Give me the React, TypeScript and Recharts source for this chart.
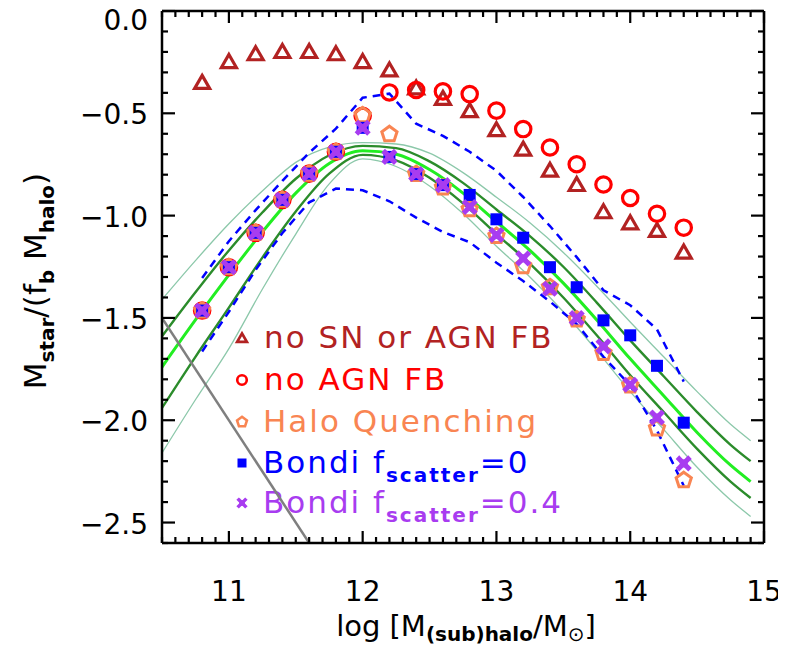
import { ComposedChart, Line, Scatter, XAxis, YAxis } from 'recharts';

const FONT = '"DejaVu Sans", Verdana, sans-serif';

// model points, log M_halo grid
const haloMass = [10.8, 11.0, 11.2, 11.4, 11.6, 11.8, 12.0, 12.2, 12.4, 12.6, 12.8, 13.0, 13.2, 13.4, 13.6, 13.8, 14.0, 14.2, 14.4];
const noSnAgn = [-0.349, -0.247, -0.209, -0.198, -0.198, -0.209, -0.247, -0.288, -0.376, -0.427, -0.487, -0.58, -0.675, -0.778, -0.848, -0.981, -1.035, -1.072, -1.178];
const noAgn = [-1.464, -1.252, -1.084, -0.923, -0.795, -0.688, -0.512, -0.398, -0.386, -0.393, -0.406, -0.487, -0.577, -0.667, -0.749, -0.848, -0.914, -0.991, -1.059];
const haloQuench = [-1.464, -1.252, -1.084, -0.923, -0.795, -0.688, -0.51, -0.602, -0.797, -0.863, -0.969, -1.1, -1.247, -1.35, -1.508, -1.672, -1.83, -2.04, -2.293];
const bondi0 = [-1.464, -1.252, -1.084, -0.923, -0.795, -0.688, -0.571, -0.713, -0.797, -0.851, -0.899, -1.018, -1.108, -1.252, -1.35, -1.512, -1.585, -1.734, -2.012];
const bondi04 = [-1.464, -1.252, -1.084, -0.923, -0.795, -0.688, -0.571, -0.713, -0.797, -0.851, -0.958, -1.095, -1.209, -1.357, -1.5, -1.639, -1.827, -1.987, -2.211];

// dashed spread of the bondi run
const spreadHi = [-1.305, -1.125, -0.973, -0.83, -0.693, -0.575, -0.424, -0.404, -0.551, -0.61, -0.688, -0.781, -0.909, -1.051, -1.203, -1.365, -1.438, -1.556, -1.811];
const spreadLo = [-1.664, -1.47, -1.265, -1.085, -0.935, -0.868, -0.876, -0.93, -1.01, -1.08, -1.13, -1.23, -1.32, -1.42, -1.53, -1.69, -1.83, -2.05, -2.32];

// abundance matching relation and its scatter
const fitMass = [10.5, 10.75, 11.0, 11.25, 11.5, 11.75, 12.0, 12.25, 12.5, 12.75, 13.0, 13.25, 13.5, 13.75, 14.0, 14.25, 14.5, 14.75, 14.9];
const fitMid = [-1.74, -1.51, -1.29, -1.08, -0.89, -0.745, -0.683, -0.7, -0.775, -0.89, -1.03, -1.17, -1.33, -1.51, -1.7, -1.88, -2.06, -2.22, -2.3];
const fitHi1 = [-1.59, -1.375, -1.17, -0.985, -0.82, -0.705, -0.659, -0.67, -0.735, -0.84, -0.97, -1.1, -1.25, -1.425, -1.61, -1.785, -1.96, -2.12, -2.2];
const fitLo1 = [-1.94, -1.69, -1.45, -1.205, -0.98, -0.795, -0.703, -0.73, -0.815, -0.94, -1.09, -1.235, -1.4, -1.585, -1.78, -1.96, -2.14, -2.3, -2.38];
const fitHi2 = [-1.41, -1.22, -1.04, -0.88, -0.74, -0.665, -0.643, -0.65, -0.695, -0.79, -0.91, -1.035, -1.18, -1.345, -1.52, -1.69, -1.86, -2.02, -2.1];
const fitLo2 = [-2.16, -1.9, -1.65, -1.36, -1.09, -0.845, -0.723, -0.76, -0.855, -0.99, -1.15, -1.3, -1.47, -1.66, -1.86, -2.045, -2.23, -2.39, -2.47];

// resolution limit
const limitMass = [10.5, 11.6];
const limitVal = [-1.5, -2.6];

const xTicks = Array.from({ length: 46 }, (_, i) => (105 + i) / 10);
const yTicks = Array.from({ length: 27 }, (_, i) => -i / 10);

const pts = (xs: number[], ys: number[]) => xs.map((x, i) => ({ x, y: ys[i] }));

const C = {
  tri: '#b22222',
  circ: '#ff0000',
  pent: '#f98552',
  sq: '#0000ff',
  xx: '#a83cf0',
  lime: '#22ee22',
  dark: '#2b8c2b',
  pale: '#8cc8aa',
};

const W = 778;
const H = 647;

const TICK = { stroke: '#000', strokeWidth: 2.2 };
const major = (v: number, step: number) => Math.abs(v / step - Math.round(v / step)) < 1e-6;

function BottomTick({ x, y, payload }: any) {
  const v = payload.value;
  const big = major(v, 1);
  return (
    <g>
      <line x1={x} x2={x} y1={y} y2={y - (big ? 12 : 6)} {...TICK} />
      {big && (
        <text x={x} y={y + 58} textAnchor="middle" fontFamily={FONT} fontSize={28} fill="#000">
          {Math.round(v)}
        </text>
      )}
    </g>
  );
}

function TopTick({ x, y, payload }: any) {
  const big = major(payload.value, 1);
  return <line x1={x} x2={x} y1={y} y2={y + (big ? 12 : 6)} {...TICK} />;
}

function LeftTick({ x, y, payload }: any) {
  const v = payload.value;
  const big = major(v, 0.5);
  const top = Math.abs(v) < 1e-9;
  const lab = top ? '0.0' : '\u2212' + Math.abs(v).toFixed(1);
  return (
    <g>
      <line x1={x} x2={x + (big ? 13 : 6)} y1={y} y2={y} {...TICK} />
      {big && (
        <text x={x - 14} y={y + (top ? 19 : 11)} textAnchor="end" fontFamily={FONT} fontSize={28} fill="#000">
          {lab}
        </text>
      )}
    </g>
  );
}

function RightTick({ x, y, payload }: any) {
  const big = major(payload.value, 0.5);
  return <line x1={x} x2={x - (big ? 13 : 6)} y1={y} y2={y} {...TICK} />;
}

function pentagon(cx: number, cy: number, r: number) {
  return Array.from({ length: 5 }, (_, k) => {
    const a = ((-90 + k * 72) * Math.PI) / 180;
    return `${cx + r * Math.cos(a)},${cy + r * Math.sin(a)}`;
  }).join(' ');
}

const Tri = ({ cx, cy, s = 1 }: any) => (
  <path
    d={`M${cx},${cy - 7 * s} L${cx + 7.5 * s},${cy + 6 * s} L${cx - 7.5 * s},${cy + 6 * s} Z`}
    fill="none"
    stroke={C.tri}
    strokeWidth={3.2 * Math.min(1, s + 0.2)}
  />
);
const Circ = ({ cx, cy, s = 1 }: any) => (
  <circle cx={cx} cy={cy} r={7.7 * s} fill="none" stroke={C.circ} strokeWidth={3.2 * Math.min(1, s + 0.2)} />
);
const Pent = ({ cx, cy, s = 1 }: any) => (
  <polygon points={pentagon(cx, cy, 8 * s)} fill="none" stroke={C.pent} strokeWidth={3 * Math.min(1, s + 0.2)} />
);
const Sq = ({ cx, cy, s = 1 }: any) => (
  <rect x={cx - 6 * s} y={cy - 6 * s} width={12 * s} height={12 * s} fill={C.sq} />
);
const Cross = ({ cx, cy, s = 1 }: any) => (
  <g stroke={C.xx} strokeWidth={5 * s} strokeLinecap="square">
    <line x1={cx - 4.5 * s} y1={cy - 4.5 * s} x2={cx + 4.5 * s} y2={cy + 4.5 * s} />
    <line x1={cx - 4.5 * s} y1={cy + 4.5 * s} x2={cx + 4.5 * s} y2={cy - 4.5 * s} />
    <rect x={cx - 4 * s} y={cy - 4 * s} width={8 * s} height={8 * s} fill={C.xx} stroke="none" />
  </g>
);

function Overlay() {
  const sub = { fontSize: 20, fontWeight: 'bold' as const };
  const legendFont = { fontFamily: FONT, fontSize: 31, letterSpacing: 2 };
  const rows = [348, 390, 432, 473, 513];
  return (
    <svg width={W} height={H} style={{ position: 'absolute', left: 0, top: 0 }}>
      {/* legend */}
      <Tri cx={234} cy={rows[0] - 10} s={0.65} />
      <text x={256} y={rows[0]} fill={C.tri} {...legendFont}>no SN or AGN FB</text>
      <Circ cx={234} cy={rows[1] - 10} s={0.62} />
      <text x={256} y={rows[1]} fill={C.circ} {...legendFont}>no AGN FB</text>
      <Pent cx={234} cy={rows[2] - 10} s={0.65} />
      <text x={255} y={rows[2]} fill={C.pent} {...legendFont}>Halo Quenching</text>
      <Sq cx={234} cy={rows[3] - 10} s={0.75} />
      <text x={255} y={rows[3]} fill={C.sq} {...legendFont}>
        Bondi f<tspan dy={9} {...sub}>scatter</tspan><tspan dy={-9}>=0</tspan>
      </text>
      <Cross cx={234} cy={rows[4] - 10} s={0.7} />
      <text x={255} y={rows[4]} fill={C.xx} {...legendFont}>
        Bondi f<tspan dy={9} {...sub}>scatter</tspan><tspan dy={-9}>=0.4</tspan>
      </text>

      {/* axis titles */}
      <text
        transform="translate(38,281) rotate(-90)"
        textAnchor="middle"
        fontFamily={FONT}
        fontSize={31}
        fill="#000"
      >
        M<tspan dy={8} fontSize={20} fontWeight="bold">star</tspan>
        <tspan dy={-8}>/(f</tspan>
        <tspan dy={8} fontSize={20} fontWeight="bold">b</tspan>
        <tspan dy={-8}> M</tspan>
        <tspan dy={8} fontSize={20} fontWeight="bold">halo</tspan>
        <tspan dy={-8}>)</tspan>
      </text>
      <text x={458} y={636} textAnchor="middle" fontFamily={FONT} fontSize={29} fill="#000">
        log [M<tspan dy={5} fontSize={20} fontWeight="bold">(sub)halo</tspan>
        <tspan dy={-5}>/M</tspan>
        <tspan dy={5} fontSize={20}>{'\u2299'}</tspan>
        <tspan dy={-5}>]</tspan>
      </text>
    </svg>
  );
}

export default function App() {
  const line = (data: any[], stroke: string, width: number, extra: any = {}) => (
    <Line
      data={data}
      dataKey="y"
      type="monotone"
      stroke={stroke}
      strokeWidth={width}
      dot={false}
      activeDot={false}
      isAnimationActive={false}
      {...extra}
    />
  );
  return (
    <div style={{ position: 'relative', width: W, height: H, marginTop: -8 }}>
      <Overlay />
      <ComposedChart width={W} height={638} margin={{ top: 10, right: 21, bottom: 0, left: 0 }}>
        <XAxis
          dataKey="x"
          type="number"
          domain={[10.5, 15]}
          allowDataOverflow
          ticks={xTicks}
          interval={0}
          tickSize={0}
          tickMargin={0}
          tickLine={false}
          tick={<BottomTick />}
          height={95}
          axisLine={{ stroke: '#000', strokeWidth: 2.5 }}
        />
        <XAxis
          xAxisId="top"
          orientation="top"
          dataKey="x"
          type="number"
          domain={[10.5, 15]}
          allowDataOverflow
          ticks={xTicks}
          interval={0}
          tickSize={0}
          tickMargin={0}
          tickLine={false}
          tick={<TopTick />}
          height={1}
          axisLine={{ stroke: '#000', strokeWidth: 2.5 }}
        />
        <YAxis
          dataKey="y"
          type="number"
          domain={[-2.6, 0]}
          allowDataOverflow
          ticks={yTicks}
          interval={0}
          tickSize={0}
          tickMargin={0}
          tickLine={false}
          tick={<LeftTick />}
          width={154}
          axisLine={{ stroke: '#000', strokeWidth: 2.5 }}
        />
        <YAxis
          yAxisId="right"
          orientation="right"
          type="number"
          domain={[-2.6, 0]}
          allowDataOverflow
          ticks={yTicks}
          interval={0}
          tickSize={0}
          tickMargin={0}
          tickLine={false}
          tick={<RightTick />}
          width={1}
          axisLine={{ stroke: '#000', strokeWidth: 2.5 }}
        />

        {line(pts(fitMass, fitHi2), C.pale, 1.3)}
        {line(pts(fitMass, fitLo2), C.pale, 1.3)}
        {line(pts(fitMass, fitHi1), C.dark, 2.4)}
        {line(pts(fitMass, fitLo1), C.dark, 2.4)}
        {line(pts(fitMass, fitMid), C.lime, 3)}
        {line(pts(haloMass, spreadHi), '#0000ff', 2.5, { type: 'linear', strokeDasharray: '8 6' })}
        {line(pts(haloMass, spreadLo), '#0000ff', 2.5, { type: 'linear', strokeDasharray: '8 6' })}
        {line(pts(limitMass, limitVal), '#7f7f7f', 2.5, { type: 'linear' })}

        <Scatter data={pts(haloMass, noSnAgn)} dataKey="y" shape={(p: any) => <Tri cx={p.cx} cy={p.cy} />} isAnimationActive={false} />
        <Scatter data={pts(haloMass, noAgn)} dataKey="y" shape={(p: any) => <Circ cx={p.cx} cy={p.cy} />} isAnimationActive={false} />
        <Scatter data={pts(haloMass, haloQuench)} dataKey="y" shape={(p: any) => <Pent cx={p.cx} cy={p.cy} />} isAnimationActive={false} />
        <Scatter data={pts(haloMass, bondi0)} dataKey="y" shape={(p: any) => <Sq cx={p.cx} cy={p.cy} />} isAnimationActive={false} />
        <Scatter data={pts(haloMass, bondi04)} dataKey="y" shape={(p: any) => <Cross cx={p.cx} cy={p.cy} />} isAnimationActive={false} />
      </ComposedChart>
    </div>
  );
}
